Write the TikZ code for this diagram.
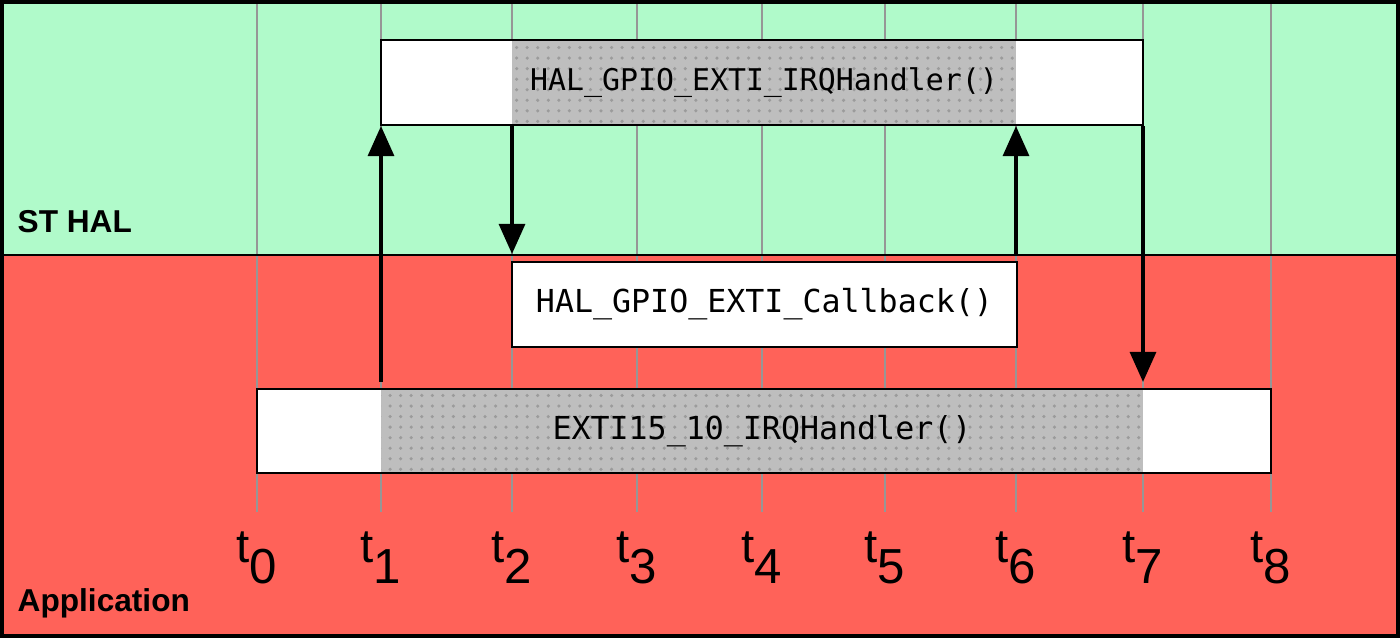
\documentclass[tikz,border=0pt]{standalone}
\usepackage{fontspec}
\setmainfont{Liberation Sans}
\setmonofont{DejaVu Sans Mono}
\usetikzlibrary{arrows.meta, patterns}

\definecolor{halgreen}{RGB}{176,250,202}
\definecolor{appred}{RGB}{255,98,89}
\definecolor{busygray}{RGB}{190,190,190}
\definecolor{dotgray}{RGB}{155,155,155}

\tikzstyle{callbox} = [rectangle, draw=black, line width=0.6pt, fill=white, inner sep=0pt, minimum height=0.85cm]
\tikzstyle{busy} = [rectangle, inner sep=0pt, fill=busygray, postaction={pattern=dots, pattern color=dotgray}, minimum height=0.83cm]
\tikzstyle{code} = [font=\ttfamily\fontsize{9}{11}\selectfont]
\tikzstyle{arrow} = [line width=0.9pt, -{Triangle[width=0.26cm, length=0.3cm]}]
\tikzstyle{tick} = [draw={rgb,255:red,150;green,150;blue,150}, line width=0.4pt]
\tikzstyle{layer} = [font=\bfseries\fontsize{9}{11}\selectfont, anchor=base west, inner sep=0pt]

\begin{document}
\begin{tikzpicture}
\useasboundingbox (0,0) rectangle (14,6.38);

% Layers
\fill[halgreen] (0,3.83) rectangle (14,6.38);
\fill[appred] (0,0) rectangle (14,3.83);

% Time grid
\foreach \i/\x in {0/2.57,1/3.81,2/5.12,3/6.37,4/7.62,5/8.85,6/10.16,7/11.43,8/12.71} {
  \coordinate (g\i) at (\x,1.26);
  \draw[tick] (g\i) -- (\x,6.38);
  \node[anchor=base, inner sep=0pt] (t\i) at (\x,0.75)
    {{\fontsize{13.5}{15}\selectfont t}\raisebox{-0.2cm}{\fontsize{14}{16}\selectfont \i}};
}

% Nodes
\node[callbox, minimum width=7.62cm] (halbox) at (7.62,5.555) {};
\node[busy, minimum width=5.04cm, font=\ttfamily\fontsize{8.5}{10}\selectfont] (halirq) at (7.64,5.555) {HAL\_GPIO\_EXTI\_IRQHandler()};
\node[callbox, code, minimum width=5.05cm] (cbbox) at (7.645,3.335) {HAL\_GPIO\_EXTI\_Callback()};
\node[callbox, minimum width=10.14cm, minimum height=0.84cm] (appbox) at (7.64,2.07) {};
\node[busy, code, minimum width=7.62cm, minimum height=0.82cm] (appirq) at (7.62,2.07) {EXTI15\_10\_IRQHandler()};

\node[layer] (hallabel) at (0.17,4.05) {ST HAL};
\node[layer] (applabel) at (0.17,0.26) {Application};

% Frame
\draw[line width=0.6pt] (0,3.83) -- (14,3.83);
\draw[line width=0.04cm] (0.02,0.02) rectangle (13.98,6.36);

% Arrows
\draw[arrow] ([yshift=0.06cm]appbox.north -| g1) -- (halbox.south -| g1);
\draw[arrow] (halbox.south -| g2) -- ([yshift=0.07cm]cbbox.north -| g2);
\draw[arrow] ([yshift=0.07cm]cbbox.north -| g6) -- (halbox.south -| g6);
\draw[arrow] (halbox.south -| g7) -- ([yshift=0.06cm]appbox.north -| g7);

\end{tikzpicture}
\end{document}
